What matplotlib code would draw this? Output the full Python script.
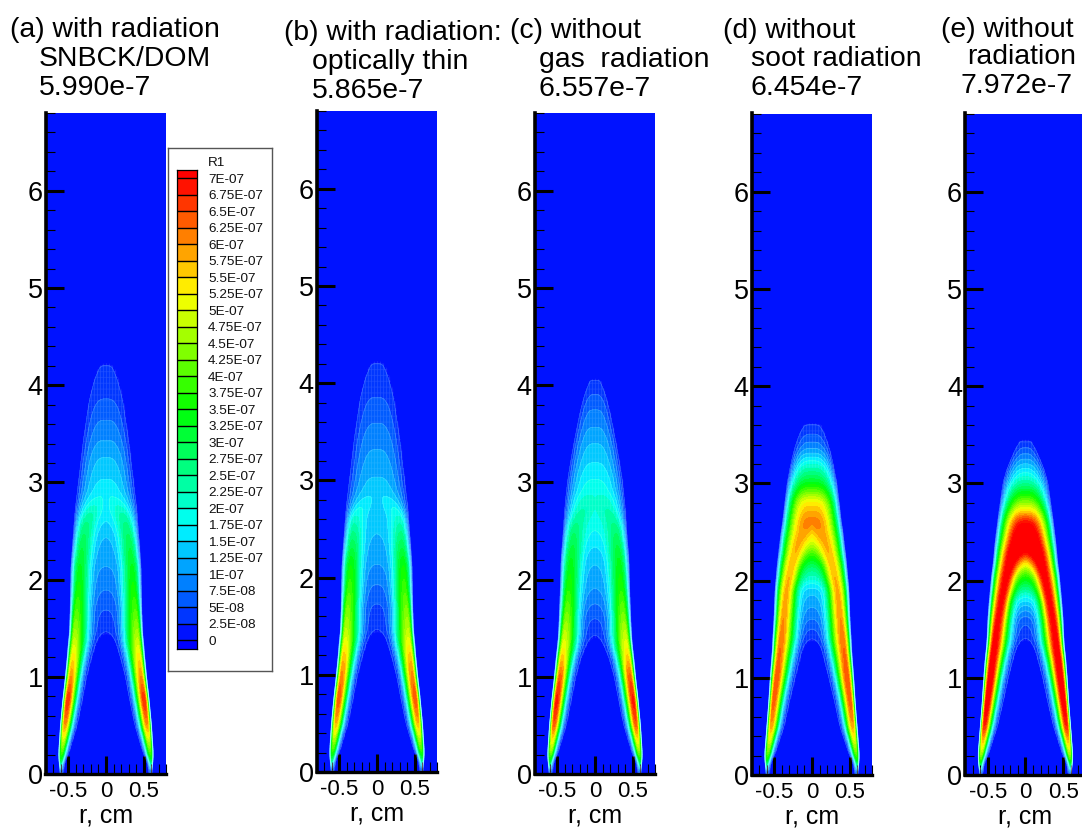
import numpy as np
import matplotlib
matplotlib.use("Agg")
import matplotlib.pyplot as plt
from matplotlib.colors import LinearSegmentedColormap, Normalize
from matplotlib.ticker import MultipleLocator

plt.rcParams['font.family'] = ['Liberation Sans', 'DejaVu Sans']

W, H = 1082, 832
LEVELS_E7 = [0.25 * i for i in range(29)]
LEVEL_LABELS = ['0', '2.5E-08', '5E-08', '7.5E-08', '1E-07', '1.25E-07', '1.5E-07', '1.75E-07', '2E-07',
                '2.25E-07', '2.5E-07', '2.75E-07', '3E-07', '3.25E-07', '3.5E-07', '3.75E-07', '4E-07',
                '4.25E-07', '4.5E-07', '4.75E-07', '5E-07', '5.25E-07', '5.5E-07', '5.75E-07', '6E-07',
                '6.25E-07', '6.5E-07', '6.75E-07', '7E-07']
COLOR_STOPS = ['#0000ff', '#00ffff', '#00ff00', '#ffff00', '#ff0000']

# Profile tables, one row per height z (cm); values in 1e-7.
# RIDGE: radius of the peak, OUTER: radius of the visible edge, FLANK: width of the inner side,
# PEAK: value on the ridge, AXIS: value at r=0
Z_A = [.03, .1, .2, .5, .75, 1, 1.2, 1.35, 1.45, 1.69, 1.89, 2.13, 2.44, 2.6, 2.7, 2.8, 2.9, 3.03, 3.26, 3.43, 3.64, 3.85, 4.05, 4.2, 4.25]
RIDGE_A = [.565, .575, .56, .515, .48, .435, .41, .39, .385, .36, .335, .32, .27, .23, .17, .10, 0, 0, 0, 0, 0, 0, 0, 0, 0]
OUTER_A = [.58, .59, .60, .575, .545, .51, .485, .47, .455, .445, .44, .435, .405, .39, .38, .365, .35, .33, .295, .27, .23, .19, .125, .05, .005]
FLANK_A = [.03, .03, .055, .09, .105, .115, .14, .165, .17, .15, .14, .13, .13, .13, .13, .13, .13, .13, .13, .13, .13, .13, .13, .13, .13]
PEAK_A = [.3, 2.5, 3.8, 6.0, 6.8, 6.0, 5.4, 4.9, 4.6, 4.0, 3.6, 3.3, 2.8, 2.5, 2.2, 1.85, 1.65, 1.5, 1.25, 1.0, .75, .5, .36, .27, .25]
AXIS_A = [0, 0, 0, 0, 0, 0, 0, 0, .25, .5, .75, 1.0, 1.25, 1.5, 1.65, 1.7, 1.65, 1.5, 1.25, 1.0, .75, .5, .36, .27, .25]

Z_B = Z_A
RIDGE_B = [.565, .575, .56, .515, .48, .435, .41, .39, .385, .36, .335, .32, .29, .27, .22, .12, 0, 0, 0, 0, 0, 0, 0, 0, 0]
OUTER_B = OUTER_A
FLANK_B = FLANK_A
PEAK_B = [.3, 2.4, 3.7, 5.8, 6.5, 6.1, 5.6, 5.1, 4.8, 4.3, 3.9, 3.5, 2.6, 2.1, 1.8, 1.55, 1.4, 1.25, 1.05, .9, .7, .5, .36, .27, .25]
AXIS_B = [0, 0, 0, 0, 0, 0, 0, 0, .25, .45, .7, 1.0, 1.25, 1.32, 1.38, 1.42, 1.4, 1.25, 1.05, .9, .7, .5, .36, .27, .25]

Z_C = [.03, .1, .2, .5, .75, 1, 1.2, 1.3, 1.42, 1.6, 1.9, 2.2, 2.5, 2.62, 2.72, 2.82, 2.92, 3.03, 3.2, 3.4, 3.6, 3.75, 3.9, 4.05, 4.08]
RIDGE_C = [.565, .575, .56, .515, .48, .435, .405, .39, .375, .35, .32, .29, .25, .21, .13, .07, 0, 0, 0, 0, 0, 0, 0, 0, 0]
OUTER_C = [.58, .59, .60, .575, .545, .51, .485, .47, .455, .445, .43, .42, .39, .38, .37, .36, .345, .33, .295, .25, .20, .16, .11, .04, .005]
FLANK_C = [.03, .03, .055, .09, .105, .115, .14, .165, .17, .15, .14, .13, .13, .13, .13, .13, .13, .13, .13, .13, .13, .13, .13, .13, .13]
PEAK_C = [.3, 2.6, 4.2, 6.4, 6.9, 6.4, 5.6, 5.2, 4.9, 4.4, 3.7, 3.3, 2.7, 2.4, 2.25, 2.1, 1.9, 1.75, 1.5, 1.25, .95, .75, .5, .3, .25]
AXIS_C = [0, 0, 0, 0, 0, 0, 0, 0, .25, .5, 1.0, 1.3, 1.75, 1.9, 2.0, 2.05, 1.9, 1.75, 1.5, 1.25, .95, .75, .5, .3, .25]

Z_D = [.03, .1, .2, .5, .75, 1, 1.2, 1.3, 1.4, 1.6, 1.9, 2.17, 2.4, 2.5, 2.6, 2.8, 3, 3.2, 3.35, 3.5, 3.6, 3.63]
RIDGE_D = [.565, .575, .56, .51, .48, .44, .41, .395, .38, .35, .31, .24, .15, .08, 0, 0, 0, 0, 0, 0, 0, 0]
OUTER_D = [.58, .59, .60, .57, .545, .525, .505, .495, .49, .475, .46, .43, .395, .38, .36, .33, .30, .25, .205, .14, .08, .01]
FLANK_D = [.03, .03, .055, .095, .115, .135, .155, .165, .17, .15, .125, .12, .12, .12, .12, .12, .12, .12, .12, .12, .12, .12]
PEAK_D = [.3, 2.5, 4.0, 5.9, 6.4, 6.5, 6.3, 6.25, 6.2, 6.0, 5.8, 5.7, 5.8, 5.9, 6.2, 5.4, 3.3, 1.95, 1.0, .5, .3, .25]
AXIS_D = [0, 0, 0, 0, 0, 0, 0, 0, .25, .75, 1.35, 2.9, 5.0, 5.6, 6.2, 5.4, 3.3, 1.95, 1.0, .5, .3, .25]

Z_E = [.03, .1, .2, .5, .75, 1, 1.2, 1.3, 1.4, 1.6, 1.8, 2.05, 2.2, 2.3, 2.45, 2.6, 2.72, 2.85, 3, 3.15, 3.3, 3.42, 3.46]
RIDGE_E = [.565, .575, .56, .515, .48, .44, .41, .39, .375, .335, .29, .225, .17, .12, 0, 0, 0, 0, 0, 0, 0, 0, 0]
OUTER_E = [.58, .59, .60, .57, .545, .525, .505, .49, .48, .47, .45, .42, .395, .385, .365, .34, .32, .295, .27, .215, .135, .06, .01]
FLANK_E = [.03, .03, .055, .095, .115, .13, .15, .16, .165, .145, .125, .12, .12, .12, .12, .12, .12, .12, .12, .12, .12, .12, .12]
PEAK_E = [.3, 3.0, 4.5, 6.8, 7.3, 7.4, 7.3, 7.25, 7.2, 7.1, 7.1, 7.2, 7.4, 7.6, 7.97, 7.0, 5.4, 3.9, 2.4, 1.5, .75, .3, .25]
AXIS_E = [0, 0, 0, 0, 0, 0, 0, 0, .25, .6, 1.5, 3.7, 5.6, 7.3, 7.97, 7.0, 5.4, 3.9, 2.4, 1.5, .75, .3, .25]

TITLES = [
    [("(a) with radiation", 10, 37), ("SNBCK/DOM", 39, 66), ("5.990e-7", 39, 95)],
    [("(b) with radiation:", 284, 40), ("optically thin", 312, 69), ("5.865e-7", 312, 98)],
    [("(c) without", 510, 38), ("gas  radiation", 539, 67), ("6.557e-7", 539, 96)],
    [("(d) without", 723, 38), ("soot radiation", 751, 66), ("6.454e-7", 751, 95)],
    [("(e) without", 941, 37), ("radiation", 967, 64), ("7.972e-7", 961, 93)],
]
YTICKS = [0, 1, 2, 3, 4, 5, 6]
XTICKS = [-0.5, 0, 0.5]
XTICK_LABELS = ['-0.5', '0', '0.5']

TABLES = [
    (Z_A, RIDGE_A, OUTER_A, FLANK_A, PEAK_A, AXIS_A),
    (Z_B, RIDGE_B, OUTER_B, FLANK_B, PEAK_B, AXIS_B),
    (Z_C, RIDGE_C, OUTER_C, FLANK_C, PEAK_C, AXIS_C),
    (Z_D, RIDGE_D, OUTER_D, FLANK_D, PEAK_D, AXIS_D),
    (Z_E, RIDGE_E, OUTER_E, FLANK_E, PEAK_E, AXIS_E),
]
TOP_POWERS = [2.6, 2.6, 2.6, 2.5, 2.1]
WING_POWER = 1.8
# left, top, bottom pixel of each frame
FRAMES = [(45.5, 113, 774), (316.5, 111, 772), (534.5, 113, 774), (751.5, 113, 775), (965, 113, 775)]
PX_PER_CM = 75.6
PX_PER_Z = 97.2
XLIM = (-0.8, 0.8)
EDGE_LEVEL = 0.25
MESH_DR = 0.04
MESH_DZ = 0.06

cmap = LinearSegmentedColormap.from_list('tp', COLOR_STOPS, N=1024)
cmap.set_over('#ff0000')
cmap.set_under('#0000ff')
norm = Normalize(0, 7)

fig = plt.figure(figsize=(W / 100, H / 100), dpi=100)


def smooth(a, z, sigma=0.04):
    dz = z[1] - z[0]
    n = int(4 * sigma / dz)
    k = np.exp(-0.5 * (np.arange(-n, n + 1) * dz / sigma) ** 2)
    k /= k.sum()
    return np.convolve(np.pad(a, n, mode='edge'), k, mode='valid')


def field(table, top_power, r, z):
    zt, r0, ro, fl, vr, vc = table
    r0i, roi, wi, vri, vci = (smooth(np.interp(z, zt, a, left=a[0], right=0), z) for a in (r0, ro, fl, vr, vc))
    keep = (z <= zt[-1]) & (z >= zt[0] * 0.5)
    e = 0.03
    ar = (np.sqrt(r ** 2 + e ** 2) - e)[None, :]
    R0, RO = r0i[:, None], roi[:, None]
    VR = np.maximum(vri[:, None], 1e-3)
    VC = np.maximum(vci[:, None], 0)
    WI = np.maximum(wi[:, None], 1e-3)
    power = WING_POWER + (top_power - WING_POWER) * np.clip(1 - R0 / 0.2, 0, 1)
    reach = np.maximum(RO - R0, 1e-3) / np.clip(1 - EDGE_LEVEL / VR, 0.1, 1) ** (1 / power)
    outer = VR * np.clip(1 - (np.maximum(ar - R0, 0) / reach) ** power, 0, 1)
    base = np.exp(-(R0 / WI) ** 2)
    f = (np.exp(-((R0 - ar) / WI) ** 2) - base) / np.maximum(1 - base, 1e-3)
    inner = VC + (VR - VC) * np.clip(f, 0, 1)
    V = np.where(ar >= R0, outer, inner) * keep[:, None]
    return np.maximum(V, 1e-4)


r = np.linspace(-0.8, 0.8, 481)
z = np.linspace(0, 6.8, 1361)
rmesh = np.abs((r / MESH_DR + 0.5) % 1 - 0.5) < 0.09
zmesh = np.abs((z / MESH_DZ + 0.5) % 1 - 0.5) < 0.04
for table, power, (left, top, bottom), title in zip(TABLES, TOP_POWERS, FRAMES, TITLES):
    width = (XLIM[1] - XLIM[0]) * PX_PER_CM
    ax = fig.add_axes([left / W, 1 - bottom / H, width / W, (bottom - top) / H])
    V = field(table, power, r, z)
    ax.contourf(r, z, V, levels=LEVELS_E7, cmap=cmap, norm=norm, extend='both')
    ax.contour(r, z, V, levels=LEVELS_E7[1:8], colors='white', linewidths=0.5, alpha=0.2)
    # faint mesh hairs of the fringe
    mesh = rmesh[None, :] | zmesh[:, None]
    hair = np.zeros(V.shape + (4,))
    hair[..., :3] = 1
    hair[..., 3] = 0.16 * (mesh & (V > 0.2) & (V < 2.2))
    ax.imshow(hair, extent=(r[0], r[-1], z[0], z[-1]), origin='lower', aspect='auto', interpolation='bilinear', zorder=2)
    ax.set_xlim(*XLIM)
    ax.set_ylim(0, (bottom - top) / PX_PER_Z)
    for s in ('top', 'right'):
        ax.spines[s].set_visible(False)
    ax.spines['left'].set_linewidth(2.6)
    ax.spines['bottom'].set_linewidth(2.4)
    ax.set_xticks(XTICKS)
    ax.set_xticklabels(XTICK_LABELS)
    ax.set_yticks(YTICKS)
    ax.xaxis.set_minor_locator(MultipleLocator(0.1))
    ax.yaxis.set_minor_locator(MultipleLocator(0.2))
    ax.tick_params(axis='x', which='major', direction='in', length=13, width=2.2, labelsize=16, pad=5)
    ax.tick_params(axis='x', which='minor', direction='in', length=7, width=0.8)
    ax.tick_params(axis='y', which='major', direction='in', length=13, width=2.2, labelsize=19.5, pad=2)
    ax.tick_params(axis='y', which='minor', direction='in', length=6.8, width=0.8)
    ax.set_xlabel('r, cm', fontsize=18, labelpad=1)
    for txt, x, y in title:
        fig.text(x / W, 1 - y / H, txt, fontsize=20.4, ha='left', va='baseline')

# Legend box
box = fig.add_axes([168 / W, 1 - 671 / H, 104 / W, 523 / H])
box.set_xticks([])
box.set_yticks([])
box.set_facecolor('white')
for s in box.spines.values():
    s.set_edgecolor('#555555')
    s.set_linewidth(1.0)

STEP = 16.49
bar_h = 648.7 - 170
bar = fig.add_axes([177 / W, 1 - 648.7 / H, 20 / W, bar_h / H])
lo = -8.7 / STEP * 0.25
hi = 7 + 8.3 / STEP * 0.25
edges = np.array([lo] + LEVELS_E7 + [hi])
mids = np.array([-1] + [v + 0.125 for v in LEVELS_E7[:-1]] + [8])
bar.pcolormesh([0, 1], edges, mids[:, None], cmap=cmap, norm=norm, shading='flat')
bar.hlines(LEVELS_E7, 0, 1, colors='black', linewidth=1.0)
bar.set_xlim(0, 1)
bar.set_ylim(lo, hi)
bar.set_xticks([])
bar.yaxis.tick_right()
bar.set_yticks(LEVELS_E7)
bar.set_yticklabels(LEVEL_LABELS, fontsize=9.7)
bar.tick_params(axis='y', length=0, pad=8, colors='#111111')
for s in bar.spines.values():
    s.set_linewidth(0.9)
fig.text(208 / W, 1 - 163 / H, 'R1', fontsize=9.7, ha='left', va='center', color='#111111')

fig.savefig('out.png', dpi=100)
